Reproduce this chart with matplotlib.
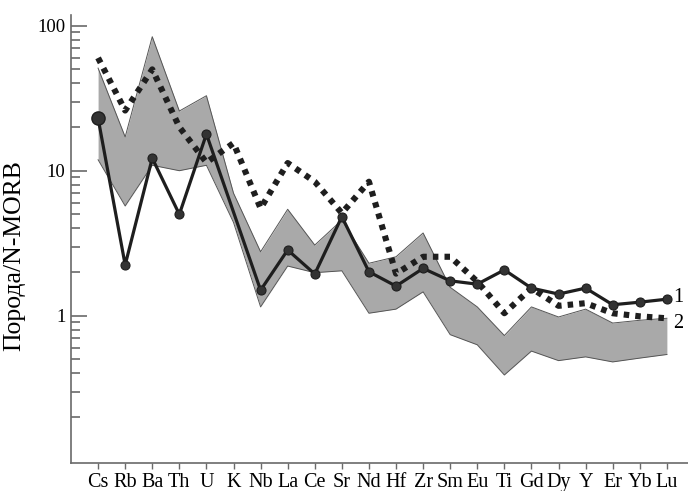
import numpy as np
import matplotlib
matplotlib.use("Agg")
import matplotlib.pyplot as plt

plt.rcParams['font.family'] = ['Liberation Serif', 'DejaVu Serif']

elements = ['Cs', 'Rb', 'Ba', 'Th', 'U', 'K', 'Nb', 'La', 'Ce', 'Sr', 'Nd',
            'Hf', 'Zr', 'Sm', 'Eu', 'Ti', 'Gd', 'Dy', 'Y', 'Er', 'Yb', 'Lu']

# sample 1 (solid, markers); K has no analysis
sample1 = [23.0, 2.24, 12.2, 5.0, 17.9, np.nan, 1.50, 2.84, 1.94, 4.82, 2.01,
           1.60, 2.12, 1.74, 1.65, 2.07, 1.55, 1.41, 1.55, 1.19, 1.24, 1.30]
# sample 2 (dotted)
sample2 = [60.0, 26.0, 50.0, 20.0, 11.4, 15.5, 5.5, 11.3, 8.4, 5.1, 8.4,
           1.95, 2.55, 2.55, 1.72, 1.04, 1.55, 1.17, 1.22, 1.04, 0.99, 0.96]
# shaded field: range of the reference group
field_hi = [51.0, 17.1, 84.0, 25.8, 32.9, 7.0, 2.76, 5.42, 3.07, 4.57, 2.30,
            2.55, 3.72, 1.57, 1.15, 0.73, 1.15, 0.98, 1.11, 0.89, 0.93, 0.96]
field_lo = [11.9, 5.71, 10.9, 10.0, 10.9, 4.4, 1.15, 2.20, 1.98, 2.04, 1.04,
            1.11, 1.46, 0.74, 0.63, 0.39, 0.57, 0.49, 0.52, 0.48, 0.51, 0.54]

major_y = [1, 10, 100]
minor_y = [m * d for d in (0.1, 1, 10) for m in range(2, 10)]

x = np.arange(len(elements))
s1 = np.array(sample1)

fig = plt.figure(figsize=(6.88, 4.91), dpi=100)
ax = fig.add_axes([0.1032, 0.057, 0.8968, 0.9125])

ax.fill_between(x, field_lo, field_hi, color='#a9a9a9', lw=0, zorder=1)
ax.plot(x, field_hi, color='#555555', lw=0.7, zorder=1.5)
ax.plot(x, field_lo, color='#555555', lw=0.7, zorder=1.5)
ax.plot(x, np.array(field_lo) * 0.985, color='white', lw=0.8, zorder=1.4)

ax.plot(x, sample2, color='#1e1e1e', lw=4.4, linestyle=(0, (0.9, 1.0)),
        dash_capstyle='butt', zorder=3)

ok = ~np.isnan(s1)
ax.plot(x[ok], s1[ok], color='#1e1e1e', lw=2.3, marker='o', ms=6.5,
        mfc='#333333', mec='#1e1e1e', mew=0.8, zorder=4)
ax.plot(x[0], s1[0], 'o', ms=9.5, mfc='#333333', mec='#1e1e1e', zorder=5)

ax.text(21.22, sample1[-1] * 1.02, '1', fontsize=14.5, va='center', ha='left')
ax.text(21.22, sample2[-1] * 0.92, '2', fontsize=14.5, va='center', ha='left')

ax.set_yscale('log')
ax.set_ylim(0.0964, 118.6)
ax.set_xlim(-1, 21.78)
ax.set_xticks(x)
ax.set_xticklabels(elements, fontsize=14.5)
ax.set_yticks(major_y)
ax.set_yticklabels([str(v) for v in major_y], fontsize=13.5)
ax.set_yticks(minor_y, minor=True)
ax.set_yticklabels([], minor=True)
ax.set_ylabel('Порода/N-MORB', fontsize=18.5)
ax.yaxis.set_label_coords(-0.0745, 0.463)

for side in ['top', 'right']:
    ax.spines[side].set_visible(False)
for side in ['left', 'bottom']:
    ax.spines[side].set_color('#6a6a6a')
    ax.spines[side].set_linewidth(1.2)

ax.tick_params(axis='y', which='major', direction='in', length=11.5,
               width=1.2, color='#6a6a6a', pad=4)
ax.tick_params(axis='y', which='minor', direction='in', length=6.5,
               width=1.2, color='#6a6a6a')
ax.tick_params(axis='x', direction='out', length=4, width=1.0,
               color='#6a6a6a', pad=3)

fig.savefig('out.png', dpi=100)
